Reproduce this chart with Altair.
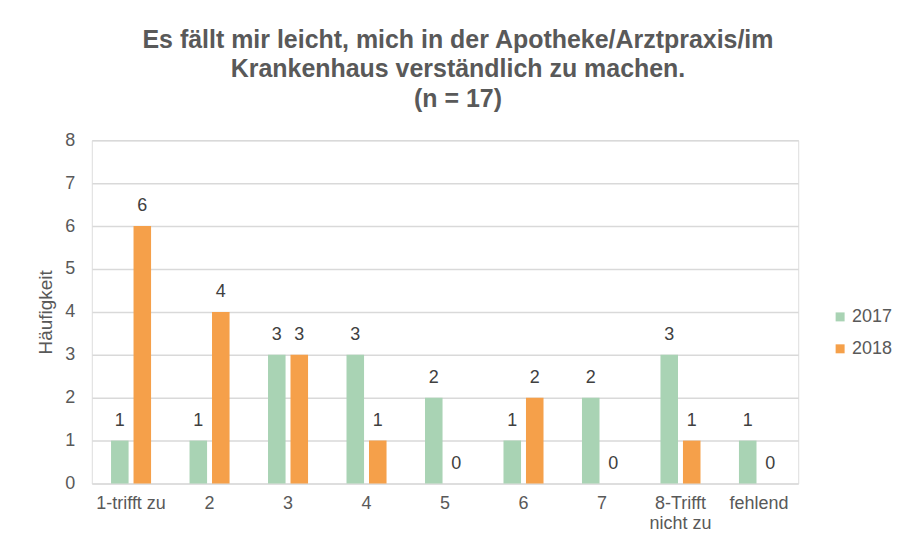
import altair as alt
import pandas as pd

categories = ["1-trifft zu", "2", "3", "4", "5", "6", "7", "8-Trifft nicht zu", "fehlend"]
values_2017 = [1, 1, 3, 3, 2, 1, 2, 3, 1]
values_2018 = [6, 4, 3, 1, 0, 2, 0, 1, 0]
series = ["2017", "2018"]
colors = ["#A9D3B4", "#F5A04A"]

rows = []
for i, c in enumerate(categories):
    rows.append({"Kategorie": c, "Jahr": "2017", "Wert": values_2017[i]})
    rows.append({"Kategorie": c, "Jahr": "2018", "Wert": values_2018[i]})
df = pd.DataFrame(rows)

FONT = "Liberation Sans"
GREY = "#595959"

x = alt.X("Kategorie:N", sort=categories,
          scale=alt.Scale(paddingInner=0.49, paddingOuter=0.245),
          axis=alt.Axis(title=None, labelAngle=0,
                        labelExpr="datum.label == '8-Trifft nicht zu' ? ['8-Trifft', 'nicht zu'] : datum.label"))
xo = alt.XOffset("Jahr:N", sort=series, scale=alt.Scale(paddingInner=0.22, paddingOuter=0))
y = alt.Y("Wert:Q", scale=alt.Scale(domain=[0, 8]),
          axis=alt.Axis(title="Häufigkeit", values=list(range(0, 9))))

base = alt.Chart(df).encode(x=x, xOffset=xo, y=y)

bars = base.mark_bar().encode(
    color=alt.Color("Jahr:N", sort=series,
                    scale=alt.Scale(domain=series, range=colors),
                    legend=alt.Legend(title=None, orient="none", legendX=741, legendY=168)),
)

labels = base.mark_text(baseline="middle", dy=-20, fontSize=18,
                        color="#404040", font=FONT).encode(text="Wert:Q")

chart = alt.layer(bars, labels).properties(
    width=708,
    height=344,
    padding={"left": 28, "top": 19, "right": 0, "bottom": 0},
    title=alt.TitleParams(
        text=["Es fällt mir leicht, mich in der Apotheke/Arztpraxis/im",
              "Krankenhaus verständlich zu machen.",
              "(n = 17)"],
        fontSize=25, font=FONT, fontWeight="bold", color=GREY,
        anchor="middle", offset=19, lineHeight=30, dx=13,
    ),
).configure_view(stroke=None).configure(background="white").configure_axis(
    labelFontSize=18, labelColor=GREY, labelFont=FONT,
    titleFontSize=19, titleColor=GREY, titleFont=FONT, titleFontWeight="normal",
    ticks=False, domain=False, gridColor="#D9D9D9", gridWidth=1.5,
).configure_axisX(
    labelPadding=11, labelLineHeight=20, grid=False,
).configure_axisY(
    labelPadding=17, titlePadding=9,
).configure_legend(
    symbolType="square", symbolSize=81, symbolStrokeWidth=0,
    labelFontSize=18, labelColor=GREY, labelFont=FONT,
    rowPadding=14, labelOffset=3, padding=0, offset=0,
)

chart.save("out.html", embed_options={"renderer": "svg", "actions": False})
